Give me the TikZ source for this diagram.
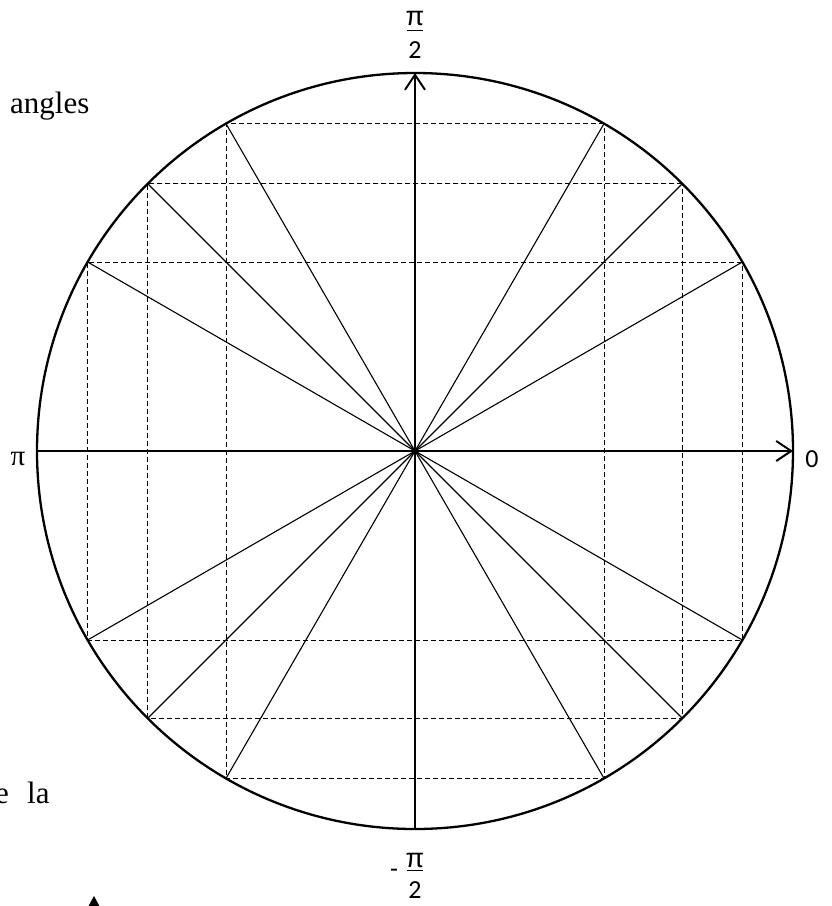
\documentclass[tikz,border=0pt]{standalone}
\usepackage{fontspec}
\setmainfont{Liberation Serif}
\newfontfamily\calib{Carlito}
\newfontfamily\lsans{Liberation Sans}
\usetikzlibrary{arrows.meta}
\begin{document}
\begin{tikzpicture}[x=1pt,y=-1pt,
  radial/.style={line width=1.1pt},
  guide/.style={line width=0.9pt, dash pattern=on 5pt off 3pt},
  axisline/.style={line width=2pt, -{Straight Barb[length=15pt,width=20pt]}},
  rim/.style={line width=2.3pt},
  lbl/.style={font=\calib\fontsize{26}{30}\selectfont, inner sep=0pt},
  pilbl/.style={font=\lsans\fontsize{27}{30}\selectfont, inner sep=0pt},
  txt/.style={font=\fontsize{31}{36}\selectfont, inner sep=0pt}]
\useasboundingbox (0,0) rectangle (831,906);
\coordinate (c) at (415,451);
\foreach \a in {0,30,45,60,90,120,135,150,180,210,225,240,270,300,315,330}
  \path (c) ++(\a:378pt) coordinate (p\a);
% circle
\draw[rim] (c) circle[radius=378pt];
% dashed rectangles
\draw[guide] (p30) -- (p150) -- (p210) -- (p330) -- cycle;
\draw[guide] (p45) -- (p135) -- (p225) -- (p315) -- cycle;
\draw[guide] (p60) -- (p120) -- (p240) -- (p300) -- cycle;
% radial lines
\draw[radial] (p30) -- (p210);
\draw[radial] (p45) -- (p225);
\draw[radial] (p60) -- (p240);
\draw[radial] (p120) -- (p300);
\draw[radial] (p135) -- (p315);
\draw[radial] (p150) -- (p330);
% axes
\draw[axisline] (p180) -- (p0);
\draw[axisline] (p270) -- (p90);
% labels
\node[pilbl] (piTop) at (415,18) {π};
\node[lbl] (twoTop) at (415,50) {2};
\coordinate (barTopL) at (407,30);
\coordinate (barTopR) at (423,30);
\draw[line width=1pt] (barTopL) -- (barTopR);
\node[pilbl] (piBot) at (415,860) {π};
\node[lbl] (twoBot) at (415,890) {2};
\coordinate (barBotL) at (407,870);
\coordinate (barBotR) at (423,870);
\draw[line width=1pt] (barBotL) -- (barBotR);
\node[lbl] (minusBot) at (394,873) {-};
\node[font=\fontsize{29}{32}\selectfont, inner sep=0pt] (piLeft) at (18,459) {π};
\node[lbl] (zeroRight) at (812,459) {0};
% stray text
\node[txt, anchor=base west] (angles) at (10,113) {angles};
\node[txt, anchor=base east] (eText) at (9,803) {e};
\node[txt, anchor=base west] (laText) at (27,803) {la};
\fill (94,896) -- (100.5,908) -- (87.5,908) -- cycle;
\end{tikzpicture}
\end{document}
